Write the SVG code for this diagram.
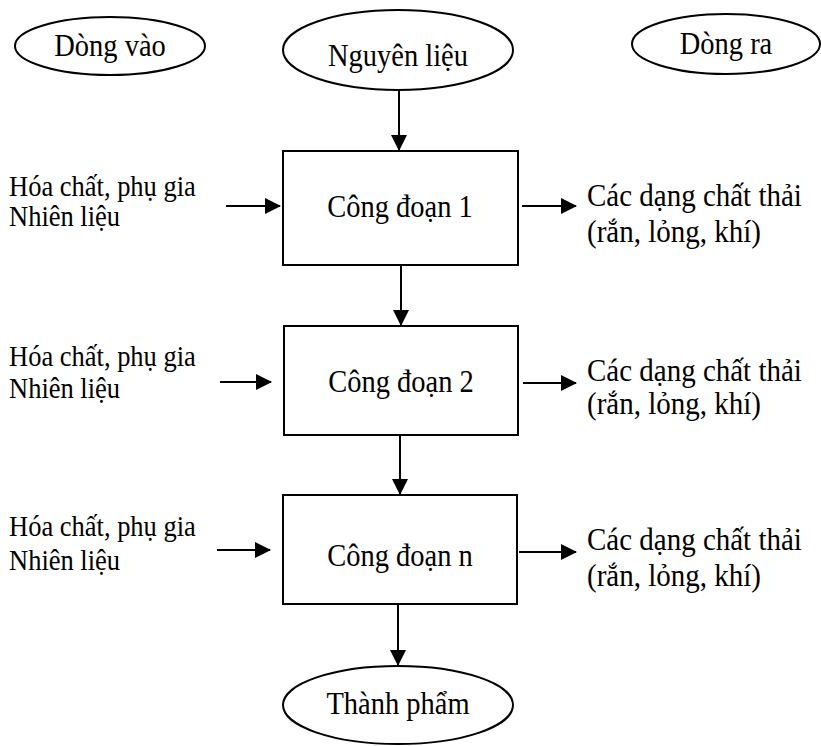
<svg xmlns="http://www.w3.org/2000/svg" width="821" height="746" viewBox="0 0 821 746">
<style>
text{font-family:"Liberation Serif","Times New Roman",serif;font-size:28.5px;fill:#000}
.c{text-anchor:middle}
.l{font-size:26.5px}
.r{font-size:29px}
.shape{fill:#fff;stroke:#000;stroke-width:2}
.conn line{stroke:#000;stroke-width:2}
</style>
<defs>
<marker id="ah" markerUnits="userSpaceOnUse" markerWidth="16" markerHeight="16" viewBox="0 0 16 16" refX="15" refY="8" orient="auto">
<path d="M0,0 L16,8 L0,16 Z" fill="#000"/>
</marker>
</defs>
<g id="dong-vao"><ellipse class="shape" cx="110" cy="46" rx="95" ry="29"/><text class="c" transform="translate(110,56) scale(1,1.1)">Dòng vào</text></g>
<g id="nguyen-lieu"><ellipse class="shape" cx="398" cy="50" rx="115" ry="40"/><text class="c" transform="translate(398,66) scale(1,1.1)">Nguyên liệu</text></g>
<g id="dong-ra"><ellipse class="shape" cx="726" cy="44" rx="94" ry="30"/><text class="c" transform="translate(726,54) scale(1,1.1)">Dòng ra</text></g>
<g id="cong-doan-1"><rect class="shape" x="283" y="151" width="235" height="114"/><text class="c" transform="translate(400,217) scale(1,1.1)">Công đoạn 1</text></g>
<g id="cong-doan-2"><rect class="shape" x="284" y="326" width="234" height="109"/><text class="c" transform="translate(401,392) scale(1,1.1)">Công đoạn 2</text></g>
<g id="cong-doan-n"><rect class="shape" x="283" y="495" width="234" height="109"/><text class="c" transform="translate(400,566) scale(1,1.1)">Công đoạn n</text></g>
<g id="thanh-pham"><ellipse class="shape" cx="398" cy="705" rx="115" ry="39"/><text class="c" transform="translate(398,714) scale(1,1.1)">Thành phẩm</text></g>
<g id="input-1"><text class="l" transform="translate(9,196) scale(1,1.14)">Hóa chất, phụ gia</text><text class="l" transform="translate(9,226) scale(1,1.14)">Nhiên liệu</text></g>
<g id="input-2"><text class="l" transform="translate(9,366) scale(1,1.14)">Hóa chất, phụ gia</text><text class="l" transform="translate(9,398) scale(1,1.14)">Nhiên liệu</text></g>
<g id="input-n"><text class="l" transform="translate(9,536) scale(1,1.14)">Hóa chất, phụ gia</text><text class="l" transform="translate(9,570) scale(1,1.14)">Nhiên liệu</text></g>
<g id="output-1"><text class="r" transform="translate(587,206) scale(1,1.1)">Các dạng chất thải</text><text class="r" transform="translate(587,242) scale(1,1.1)">(rắn, lỏng, khí)</text></g>
<g id="output-2"><text class="r" transform="translate(587,381) scale(1,1.1)">Các dạng chất thải</text><text class="r" transform="translate(587,414) scale(1,1.1)">(rắn, lỏng, khí)</text></g>
<g id="output-n"><text class="r" transform="translate(587,550) scale(1,1.1)">Các dạng chất thải</text><text class="r" transform="translate(587,586) scale(1,1.1)">(rắn, lỏng, khí)</text></g>
<g class="conn" id="connectors">
<line x1="399" y1="90" x2="399" y2="150" marker-end="url(#ah)"/>
<line x1="401" y1="265" x2="401" y2="325" marker-end="url(#ah)"/>
<line x1="400" y1="435" x2="400" y2="494" marker-end="url(#ah)"/>
<line x1="398" y1="604" x2="398" y2="665" marker-end="url(#ah)"/>
<line x1="226" y1="206" x2="280" y2="206" marker-end="url(#ah)"/>
<line x1="220" y1="382" x2="271" y2="382" marker-end="url(#ah)"/>
<line x1="217" y1="550" x2="270" y2="550" marker-end="url(#ah)"/>
<line x1="522" y1="206" x2="576" y2="206" marker-end="url(#ah)"/>
<line x1="523" y1="383" x2="576" y2="383" marker-end="url(#ah)"/>
<line x1="519" y1="552" x2="576" y2="552" marker-end="url(#ah)"/>
</g>
</svg>
